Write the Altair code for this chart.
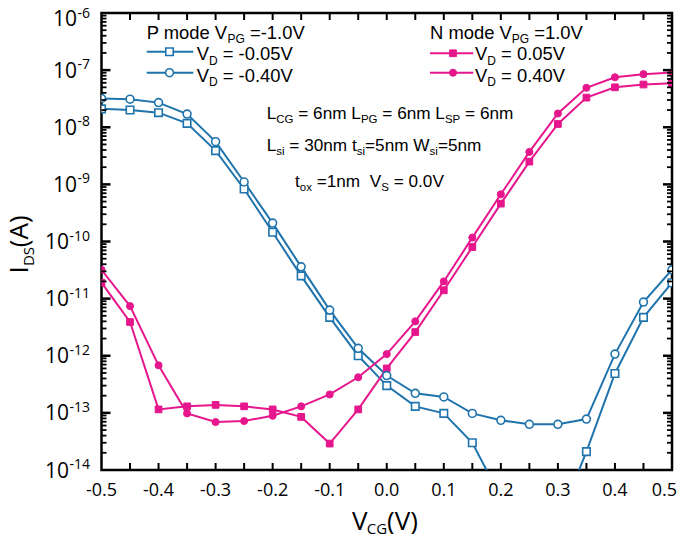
import altair as alt
import pandas as pd

# ---------------- data ----------------
vcg = [-0.5, -0.45, -0.4, -0.35, -0.3, -0.25, -0.2, -0.15, -0.1, -0.05, 0.0,
       0.05, 0.1, 0.15, 0.2, 0.25, 0.3, 0.35, 0.4, 0.45, 0.5]

p_vd_005 = [2.1e-8, 2.0e-8, 1.8e-8, 1.17e-8, 3.9e-9, 8.3e-10, 1.45e-10, 2.5e-11, 4.7e-12, 1.0e-12, 3.0e-13,
            1.3e-13, 9.8e-14, 3.0e-14, 3.3e-15, 1.5e-15, 1.2e-15, 2.1e-14, 4.9e-13, 4.7e-12, 1.9e-11]
p_vd_040 = [3.2e-8, 3.1e-8, 2.7e-8, 1.7e-8, 5.6e-9, 1.1e-9, 2.1e-10, 3.6e-11, 6.3e-12, 1.35e-12, 4.5e-13,
            2.2e-13, 1.9e-13, 9.8e-14, 7.4e-14, 6.3e-14, 6.3e-14, 7.8e-14, 1.07e-12, 8.7e-12, 3.2e-11]
n_vd_005 = [1.9e-11, 3.9e-12, 1.15e-13, 1.3e-13, 1.38e-13, 1.3e-13, 1.15e-13, 8.5e-14, 2.9e-14, 1.15e-13, 6.0e-13,
            2.6e-12, 1.4e-11, 8.0e-11, 4.6e-10, 2.5e-9, 1.14e-8, 3.3e-8, 5.0e-8, 5.6e-8, 5.9e-8]
n_vd_040 = [3.2e-11, 7.4e-12, 6.8e-13, 9.8e-14, 6.9e-14, 7.2e-14, 8.9e-14, 1.3e-13, 2.1e-13, 4.2e-13, 1.07e-12,
            4.0e-12, 2.0e-11, 1.17e-10, 6.7e-10, 3.7e-9, 1.74e-8, 4.9e-8, 7.5e-8, 8.5e-8, 9.1e-8]

series_names = ["P_-0.05", "P_-0.40", "N_0.05", "N_0.40"]
series_values = [p_vd_005, p_vd_040, n_vd_005, n_vd_040]

xtick_values = [-0.5, -0.4, -0.3, -0.2, -0.1, 0.0, 0.1, 0.2, 0.3, 0.4, 0.5]
xtick_labels = ["-0.5", "-0.4", "-0.3", "-0.2", "-0.1", "0.0", "0.1", "0.2", "0.3", "0.4", "0.5"]
xtick_inner = [-0.45, -0.4, -0.35, -0.3, -0.25, -0.2, -0.15, -0.1, -0.05, 0.0,
               0.05, 0.1, 0.15, 0.2, 0.25, 0.3, 0.35, 0.4, 0.45]
ytick_exponents = [-6, -7, -8, -9, -10, -11, -12, -13, -14]

# ---------------- tables ----------------
rows = []
for name, vals in zip(series_names, series_values):
    for x, v in zip(vcg, vals):
        rows.append({"vcg": x, "ids": v, "series": name})
df = pd.DataFrame(rows)

BLUE = "#1f74ad"
PINK = "#e6168c"
W, H = 570.5, 457
PX0, PY0 = 101.5, 13  # page position of plot origin

xsc = alt.Scale(domain=[-0.5, 0.5], nice=False, zero=False)
ysc = alt.Scale(type="log", domain=[1e-14, 1e-6], nice=False)
X = alt.X("vcg:Q", scale=xsc, axis=None, title=None)
Y = alt.Y("ids:Q", scale=ysc, axis=None, title=None)

layers = []

# data lines
for name, col in zip(series_names, [BLUE, BLUE, PINK, PINK]):
    layers.append(
        alt.Chart(df).transform_filter(alt.datum.series == name)
        .mark_line(color=col, strokeWidth=2, clip=True)
        .encode(x=X, y=Y, order="vcg:Q")
    )

# markers
def markers(name, shape, filled, col, size):
    if filled:
        m = alt.Chart(df).mark_point(shape=shape, filled=True, fill=col, stroke=col,
                                     strokeWidth=1, size=size, opacity=1, clip=True)
    else:
        m = alt.Chart(df).mark_point(shape=shape, filled=True, fill="white", stroke=col,
                                     strokeWidth=1.6, size=size, opacity=1, clip=True)
    return m.transform_filter(alt.datum.series == name).encode(x=X, y=Y)

layers.append(markers("N_0.05", "square", True, PINK, 45))
layers.append(markers("N_0.40", "circle", True, PINK, 50))
layers.append(markers("P_-0.05", "square", False, BLUE, 56))
layers.append(markers("P_-0.40", "circle", False, BLUE, 62))

# inward ticks
xt = pd.DataFrame({"vcg": xtick_inner})
layers.append(alt.Chart(xt).mark_rule(color="black", strokeWidth=2)
              .encode(x=X, y=alt.value(H), y2=alt.value(H - 7)))
layers.append(alt.Chart(xt).mark_rule(color="black", strokeWidth=2)
              .encode(x=X, y=alt.value(0), y2=alt.value(7)))

major = [10.0 ** e for e in ytick_exponents[1:-1]]
minor = [k * 10.0 ** e for e in range(-14, -6) for k in range(2, 10)]
ymaj = pd.DataFrame({"ids": major})
ymin = pd.DataFrame({"ids": minor})
layers.append(alt.Chart(ymaj).mark_rule(color="black", strokeWidth=2.5)
              .encode(y=Y, x=alt.value(0), x2=alt.value(9)))
layers.append(alt.Chart(ymaj).mark_rule(color="black", strokeWidth=2.5)
              .encode(y=Y, x=alt.value(W), x2=alt.value(W - 9)))
layers.append(alt.Chart(ymin).mark_rule(color="black", strokeWidth=1.8)
              .encode(y=Y, x=alt.value(0), x2=alt.value(5)))
layers.append(alt.Chart(ymin).mark_rule(color="black", strokeWidth=1.8)
              .encode(y=Y, x=alt.value(W), x2=alt.value(W - 5)))

# x tick labels (the last one kept inside the page edge)
xl = pd.DataFrame({"vcg": xtick_values, "lab": xtick_labels})
layers.append(alt.Chart(xl).transform_filter(alt.datum.vcg < 0.45)
              .mark_text(font="Open Sans", fontSize=18, align="center",
                         baseline="alphabetic", color="black")
              .encode(x=X, y=alt.value(H + 26), text="lab:N"))
layers.append(alt.Chart(xl).transform_filter(alt.datum.vcg > 0.45)
              .mark_text(font="Open Sans", fontSize=18, align="right",
                         baseline="alphabetic", color="black", dx=5)
              .encode(x=X, y=alt.value(H + 26), text="lab:N"))

# y tick labels: 10 with superscript exponent
yl = pd.DataFrame({"ids": [10.0 ** e for e in ytick_exponents],
                   "exp": [str(e) for e in ytick_exponents]})
# top label nudged down so it stays inside the page
layers.append(alt.Chart(yl).transform_filter(alt.datum.ids > 5e-7)
              .mark_text(font="Open Sans", fontSize=14, align="right",
                         baseline="alphabetic", color="black", dy=5)
              .encode(y=Y, x=alt.value(-11.5), text="exp:N"))
layers.append(alt.Chart(yl).transform_filter(alt.datum.ids > 5e-7)
              .mark_text(font="Open Sans", fontSize=21, align="right",
                         baseline="alphabetic", color="black", dy=12.5, text="10")
              .encode(y=Y, x=alt.value(-24.5)))
layers.append(alt.Chart(yl).transform_filter(alt.datum.ids < 5e-7)
              .mark_text(font="Open Sans", fontSize=14, align="right",
                         baseline="alphabetic", color="black", dy=-1)
              .encode(y=Y, x=alt.value(-11.5), text="exp:N"))
layers.append(alt.Chart(yl).transform_filter((alt.datum.ids >= 1e-9) & (alt.datum.ids < 5e-7))
              .mark_text(font="Open Sans", fontSize=21, align="right",
                         baseline="alphabetic", color="black", dy=7.5, text="10")
              .encode(y=Y, x=alt.value(-24.5)))
layers.append(alt.Chart(yl).transform_filter(alt.datum.ids < 1e-9)
              .mark_text(font="Open Sans", fontSize=21, align="right",
                         baseline="alphabetic", color="black", dy=7.5, text="10")
              .encode(y=Y, x=alt.value(-32.5)))

# ---------------- rich text helpers ----------------
ARIAL = {" ": .278, "(": .333, ")": .333, "-": .333, ".": .278, "=": .584,
         "A": .667, "C": .722, "D": .722, "G": .778, "I": .278, "L": .556, "N": .722,
         "P": .667, "S": .667, "V": .667, "W": .944, "d": .556, "e": .556, "i": .222,
         "m": .833, "n": .556, "o": .556, "s": .5, "t": .278, "x": .5}
OPEN = {" ": .26, "(": .294, ")": .294, "-": .322, ".": .266, "A": .633, "C": .635,
        "D": .716, "G": .716, "I": .286, "S": .543, "V": .569}


def width(s, size, table):
    return sum(table.get(c, 0.556) for c in s) * size


ONE = pd.DataFrame({"k": [0]})


def piece(text, x, y, size, font, angle=0, color="black"):
    return (alt.Chart(ONE)
            .mark_text(text=text, font=font, fontSize=size, align="left",
                       baseline="alphabetic", color=color, angle=angle)
            .encode(x=alt.value(x), y=alt.value(y)))


def rich(pieces, px, py, size, sub, font, table, subdy=4.5):
    out = []
    x = px - PX0
    for t, is_sub in pieces:
        fs = sub if is_sub else size
        lead = len(t) - len(t.lstrip(" "))
        body = t.strip(" ")
        xx = x + width(" " * lead, fs, table)
        out.append(piece(body, xx, py - PY0 + (subdy if is_sub else 0), fs, font))
        x += width(t, fs, table)
    return out


def rich_rot(pieces, px, py, size, sub, font, table, subdx):
    out = []
    y = py - PY0
    for t, is_sub in pieces:
        fs = sub if is_sub else size
        out.append(piece(t, px - PX0 + (subdx if is_sub else 0), y, fs, font, angle=270))
        y -= width(t, fs, table)
    return out


LF = "Liberation Sans"
# legend P mode
layers += rich([("P mode V", 0), ("PG", 1), (" =-1.0V", 0)], 146.7, 38.5, 18.4, 12, LF, ARIAL)
layers += rich([("V", 0), ("D", 1), (" = -0.05V", 0)], 196.7, 60, 18.4, 12, LF, ARIAL)
layers += rich([("V", 0), ("D", 1), (" = -0.40V", 0)], 196.7, 81.5, 18.4, 12, LF, ARIAL)
# legend N mode
layers += rich([("N mode V", 0), ("PG", 1), (" =1.0V", 0)], 430, 38.5, 18.4, 12, LF, ARIAL)
layers += rich([("V", 0), ("D", 1), (" = 0.05V", 0)], 475, 60, 18.4, 12, LF, ARIAL)
layers += rich([("V", 0), ("D", 1), (" = 0.40V", 0)], 475, 81.5, 18.4, 12, LF, ARIAL)

# legend samples
def sample(x1, x2, y, col):
    return (alt.Chart(ONE).mark_rule(color=col, strokeWidth=2)
            .encode(x=alt.value(x1 - PX0), x2=alt.value(x2 - PX0), y=alt.value(y - PY0)))


def sample_pt(x, y, shape, filled, col, size):
    if filled:
        m = alt.Chart(ONE).mark_point(shape=shape, filled=True, fill=col, stroke=col,
                                      strokeWidth=1, size=size, opacity=1)
    else:
        m = alt.Chart(ONE).mark_point(shape=shape, filled=True, fill="white", stroke=col,
                                      strokeWidth=1.6, size=size, opacity=1)
    return m.encode(x=alt.value(x - PX0), y=alt.value(y - PY0))


layers.append(sample(146.7, 193.3, 51.7, BLUE))
layers.append(sample(146.7, 193.3, 72.7, BLUE))
layers.append(sample_pt(169.5, 51.7, "square", False, BLUE, 56))
layers.append(sample_pt(169.5, 72.7, "circle", False, BLUE, 62))
layers.append(sample(430, 473.3, 53.3, PINK))
layers.append(sample(430, 473.3, 72.7, PINK))
layers.append(sample_pt(453, 53.3, "square", True, PINK, 45))
layers.append(sample_pt(453, 72.7, "circle", True, PINK, 50))

# device annotations
AS, AB = 17.2, 11.5
layers += rich([("L", 0), ("CG", 1), (" = 6nm L", 0), ("PG", 1), (" = 6nm L", 0), ("SP", 1), (" = 6nm", 0)],
               266.7, 119, AS, AB, LF, ARIAL, 4)
layers += rich([("L", 0), ("si", 1), (" = 30nm t", 0), ("si", 1), ("=5nm W", 0), ("si", 1), ("=5nm", 0)],
               266.7, 151, AS, AB, LF, ARIAL, 4)
layers += rich([("t", 0), ("ox", 1), (" =1nm", 0), ("  V", 0), ("S", 1), (" = 0.0V", 0)],
               295, 186.5, AS, AB, LF, ARIAL, 4)

# axis titles
OF = "Open Sans"
layers += rich([("V", 0), ("CG", 1), ("(V)", 0)], 352, 529.5, 26, 15, OF, OPEN, 4)
layers += rich_rot([("I", 0), ("DS", 1), ("(A)", 0)], 28, 273.5, 26, 15, OF, OPEN, 6)

chart = (
    alt.layer(*layers)
    .properties(
        width=W, height=H,
        autosize=alt.AutoSizeParams(type="none"),
        padding={"left": 93.5, "top": 5, "right": 5, "bottom": 64},
    )
    .configure_view(stroke="black", strokeWidth=2.5)
)

chart.save("out.html", embed_options={"renderer": "svg", "actions": False})
